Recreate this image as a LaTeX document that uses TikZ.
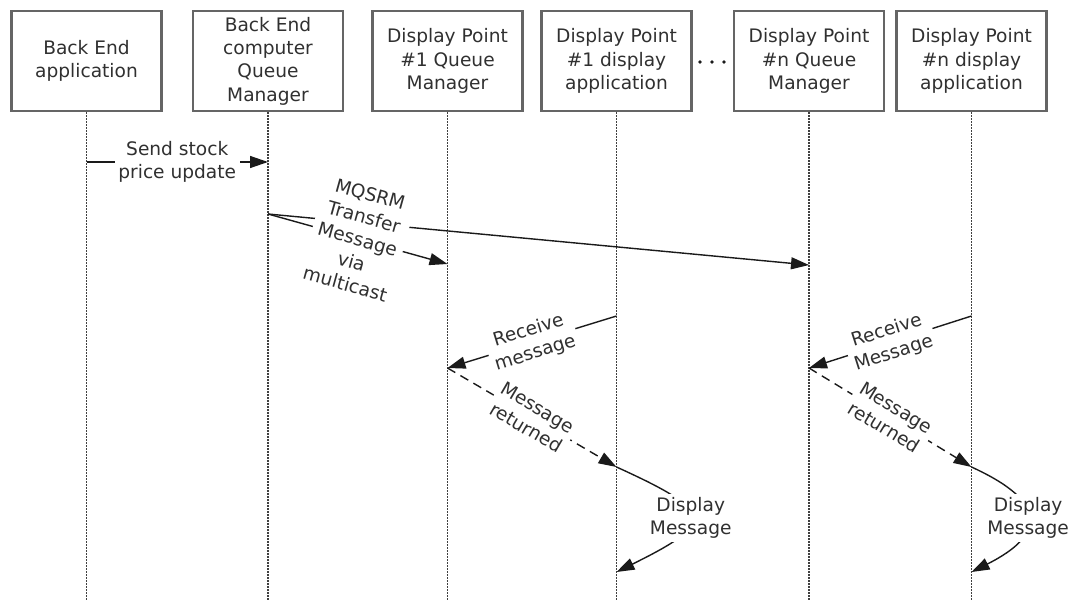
\documentclass[tikz,border=0pt]{standalone}
\usepackage{fontspec}
\setmainfont{DejaVu Sans}
\usetikzlibrary{arrows.meta}
\definecolor{txt}{HTML}{303030}
\definecolor{bord}{HTML}{656565}
\definecolor{life}{HTML}{404040}
\definecolor{lnc}{HTML}{1A1A1A}
\newcommand\lblfont{\fontsize{18.6}{23.3}\selectfont}
\begin{document}
\begin{tikzpicture}[x=1pt,y=-1pt,
  actor/.style={draw=bord, line width=2.2pt, minimum width=150pt, minimum height=100pt, align=center, text=txt, font=\lblfont, inner sep=0pt},
  lifeline/.style={draw=life, line width=1.5pt, dash pattern=on 1.5pt off 1.5pt},
  msg/.style={draw=lnc, line width=1.4pt, -{Triangle[length=18pt,width=12pt]}},
  ret/.style={msg, dash pattern=on 9pt off 6pt},
  lab/.style={fill=white, align=center, text=txt, font=\lblfont, inner sep=3.5pt},
]
\useasboundingbox (0,0) rectangle (1071,600);

% participants
\node[actor] (b1) at (86.5,61) {Back End\\application};
\node[actor] (b2) at (268,61) {Back End\\computer\\Queue\\Manager};
\node[actor] (b3) at (447.5,61) {Display Point\\\#1 Queue\\Manager};
\node[actor] (b4) at (616.5,61) {Display Point\\\#1 display\\application};
\node[actor] (b5) at (809,61) {Display Point\\\#n Queue\\Manager};
\node[actor] (b6) at (971.5,61) {Display Point\\\#n display\\application};

% ellipsis between participants
\fill[lnc] (700,62) circle (1.8pt) (712,62) circle (1.8pt) (724,62) circle (1.8pt);

% lifelines
\foreach \b in {b1,b2,b3,b4,b5,b6}
  \draw[lifeline] (\b.south) -- (\b.south |- 0,600);

% message anchor points
\coordinate (s1) at (b1.south |- 0,162);
\coordinate (s2) at (b2.south |- 0,162);
\coordinate (m0) at (b2.south |- 0,214);
\coordinate (m3) at (b3.south |- 0,264);
\coordinate (m5) at (b5.south |- 0,265);
\coordinate (r4) at (b4.south |- 0,316);
\coordinate (r3) at (b3.south |- 0,368);
\coordinate (d4) at (b4.south |- 0,467);
\coordinate (e4) at (b4.south |- 0,572);
\coordinate (r6) at (b6.south |- 0,316);
\coordinate (r5) at (b5.south |- 0,368);
\coordinate (d6) at (b6.south |- 0,467);
\coordinate (e6) at (b6.south |- 0,572);

% messages
\draw[msg] (s1) -- node[lab] {Send stock\\price update} (s2);
\draw[msg] (m0) -- (m5);
\draw[msg] (m0) -- node[lab, sloped] {MQSRM\\Transfer\\Message\\via\\multicast} (m3);

\draw[msg] (r4) -- node[lab, sloped] {Receive\\message} (r3);
\draw[ret] (r3) -- node[lab, sloped] {Message\\returned} (d4);
\draw[msg] (d4) .. controls +(99,45) and +(99,-49) .. node[lab] {Display\\Message} (e4);

\draw[msg] (r6) -- node[lab, sloped] {Receive\\Message} (r5);
\draw[ret] (r5) -- node[lab, sloped] {Message\\returned} (d6);
\draw[msg] (d6) .. controls +(75.5,34.5) and +(75.5,-38) .. node[lab] {Display\\Message} (e6);
\end{tikzpicture}
\end{document}
